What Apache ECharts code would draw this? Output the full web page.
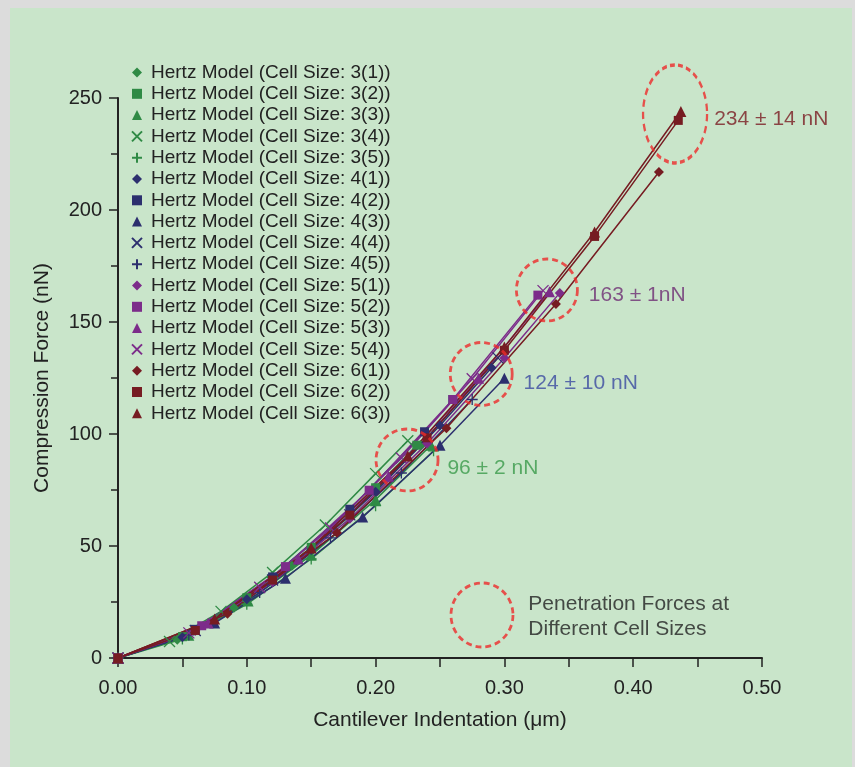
<!DOCTYPE html>
<html>
<head>
<meta charset="utf-8">
<script src="https://cdn.jsdelivr.net/npm/echarts@6/dist/echarts.min.js"></script>
<style>
html,body{margin:0;padding:0;background:#dcdcdc;}
#panel{position:absolute;left:10px;top:8px;width:842px;height:759px;background:#c9e5ca;}
#chart{position:absolute;left:0;top:0;width:855px;height:767px;}
</style>
</head>
<body>
<div id="panel"></div>
<div id="chart"></div>
<script>
// indentation (um), force (nN)
var cell31 = [[0,0],[0.046,8.2],[0.09,22.4],[0.135,41.2],[0.18,63.4],[0.235,95]];
var cell32 = [[0,0],[0.05,9.5],[0.1,26.9],[0.15,49.4],[0.2,76],[0.232,95]];
var cell33 = [[0,0],[0.055,10.2],[0.101,25.4],[0.15,45.9],[0.2,70.7],[0.243,95]];
var cell34 = [[0,0],[0.04,7.4],[0.08,20.8],[0.12,38.2],[0.161,59.4],[0.2,82.3],[0.225,97]];
var cell35 = [[0,0],[0.05,8.5],[0.1,24],[0.15,44.2],[0.2,68],[0.245,92.5]];
var cell41 = [[0,0],[0.05,9.3],[0.1,26.2],[0.15,48.2],[0.2,74.2],[0.25,103.8],[0.29,129.6]];
var cell42 = [[0,0],[0.06,12.8],[0.12,36.2],[0.18,66.4],[0.238,101],[0.26,115.4]];
var cell43 = [[0,0],[0.075,15.6],[0.13,35.6],[0.19,62.9],[0.25,95],[0.3,124.9]];
var cell44 = [[0,0],[0.06,12.3],[0.12,34.8],[0.18,63.9],[0.24,98.4],[0.295,134]];
var cell45 = [[0,0],[0.055,10.3],[0.11,29.2],[0.165,53.6],[0.22,82.6],[0.275,115.4]];
var cell51 = [[0,0],[0.06,12],[0.12,33.9],[0.18,62.2],[0.24,95.8],[0.3,133.9],[0.343,163]];
var cell52 = [[0,0],[0.065,14.4],[0.13,40.8],[0.195,74.9],[0.26,115.4],[0.326,162]];
var cell53 = [[0,0],[0.07,15.6],[0.14,44.2],[0.21,81.1],[0.28,124.9],[0.335,163.5]];
var cell54 = [[0,0],[0.055,11.2],[0.11,31.6],[0.165,58],[0.22,89.3],[0.275,124.7],[0.33,164]];
var cell61 = [[0,0],[0.085,19.7],[0.17,55.9],[0.255,102.6],[0.34,158],[0.42,217]];
var cell62 = [[0,0],[0.06,12.3],[0.12,34.8],[0.18,63.8],[0.24,98.3],[0.3,137.4],[0.37,188.2],[0.435,240]];
var cell63 = [[0,0],[0.075,17.4],[0.15,49.1],[0.225,90.2],[0.3,138.8],[0.37,190.2],[0.437,244]];

var cellLabels = ['3(1)','3(2)','3(3)','3(4)','3(5)','4(1)','4(2)','4(3)','4(4)','4(5)',
                  '5(1)','5(2)','5(3)','5(4)','6(1)','6(2)','6(3)'];
var cellData = [cell31,cell32,cell33,cell34,cell35,cell41,cell42,cell43,cell44,cell45,
                cell51,cell52,cell53,cell54,cell61,cell62,cell63];

// penetration force call-outs
var calloutX = [0.2244, 0.282, 0.333, 0.4325, 0.2826];
var calloutY = [88.4, 126.8, 164.3, 242.9, 19.2];
var calloutText = ['96 \u00b1 2 nN', '124 \u00b1 10 nN', '163 \u00b1 1nN', '234 \u00b1 14 nN',
                   'Penetration Forces at\nDifferent Cell Sizes'];

var xTicks = ['0.00','0.10','0.20','0.30','0.40','0.50'];

var groupColor = {'3':'#2f8a45','4':'#2c2f6e','5':'#7c2c8a','6':'#761c22'};
var crossPath = 'path://M0,0L10,10M10,0L0,10';
var plusPath = 'path://M5,0L5,10M0,5L10,5';
var shapeBySub = {'1':'diamond','2':'rect','3':'triangle','4':crossPath,'5':plusPath};
var sizeBySub = {'1':10,'2':9,'3':11,'4':11,'5':11};

var chart = echarts.init(document.getElementById('chart'));
var font = 'Liberation Sans, Arial, Helvetica, sans-serif';

var series = [];
var legendData = [];
cellLabels.forEach(function (c, i) {
    var col = groupColor[c.charAt(0)];
    var sub = c.charAt(2);
    var isLine = sub == '4' || sub == '5';
    var name = 'Hertz Model (Cell Size: ' + c + ')';
    legendData.push({name: name, icon: shapeBySub[sub]});
    series.push({
        name: name,
        type: 'line',
        data: cellData[i],
        symbol: shapeBySub[sub],
        symbolSize: sizeBySub[sub],
        showAllSymbol: true,
        lineStyle: {color: col, width: 1.5},
        itemStyle: {color: isLine ? 'transparent' : col, borderColor: col, borderWidth: isLine ? 1.3 : 0},
        z: 2
    });
});

var calloutSize = [[62,62],[62,63],[61,62],[64,98],[62,64]];
var calloutColor = ['#3a9a4a','#3b4aa0','#6e2d73','#7a1c22','#222222'];
var calloutOffset = [[0,8],[0,9],[0,5],[0,5],[0,2]];
var calloutGap = [8,10,10,6,14];

series.push({
    name: 'callouts',
    type: 'scatter',
    z: 5,
    symbol: 'circle',
    data: calloutX.map(function (x, i) {
        return {
            value: [x, calloutY[i]],
            symbolSize: calloutSize[i],
            label: {
                show: true, position: 'right', formatter: calloutText[i],
                color: calloutColor[i], offset: calloutOffset[i], distance: calloutGap[i],
                fontSize: 21, lineHeight: 25, fontFamily: font
            }
        };
    }),
    itemStyle: {color: 'rgba(0,0,0,0)', borderColor: '#ee2b2b', borderWidth: 2.8, borderType: [6,4]}
});

var option = {
    animation: false,
    grid: {left: 118, right: 93, top: 98, bottom: 109},
    legend: {
        orient: 'vertical', left: 126, top: 58,
        itemWidth: 10, itemHeight: 10, itemGap: 2.3,
        data: legendData,
        textStyle: {fontSize: 19, color: '#222', fontFamily: font, lineHeight: 19, padding: [0,0,0,4]}
    },
    xAxis: {
        type: 'value', min: 0, max: 0.5, interval: 0.1,
        name: 'Cantilever Indentation (\u03bcm)', nameLocation: 'middle', nameGap: 52,
        nameTextStyle: {fontSize: 21, color: '#222', fontFamily: font},
        axisLine: {lineStyle: {color: '#222', width: 2}},
        axisTick: {length: 9, lineStyle: {color: '#222', width: 1.5}},
        minorTick: {show: true, splitNumber: 2, length: 9, lineStyle: {color: '#222', width: 1.5}},
        splitLine: {show: false},
        axisLabel: {fontSize: 20, color: '#222', fontFamily: font, margin: 20,
            formatter: function (v) { return xTicks[Math.round(v * 10)]; }}
    },
    yAxis: {
        type: 'value', min: 0, max: 250, interval: 50,
        name: 'Compression Force (nN)', nameLocation: 'middle', nameGap: 65,
        nameTextStyle: {fontSize: 21, color: '#222', fontFamily: font},
        axisLine: {show: true, lineStyle: {color: '#222', width: 2}},
        axisTick: {show: true, length: 9, lineStyle: {color: '#222', width: 1.5}},
        minorTick: {show: true, splitNumber: 2, length: 7, lineStyle: {color: '#222', width: 1.5}},
        splitLine: {show: false},
        axisLabel: {fontSize: 20, color: '#222', fontFamily: font, margin: 16}
    },
    series: series
};
chart.setOption(option);
</script>
</body>
</html>
